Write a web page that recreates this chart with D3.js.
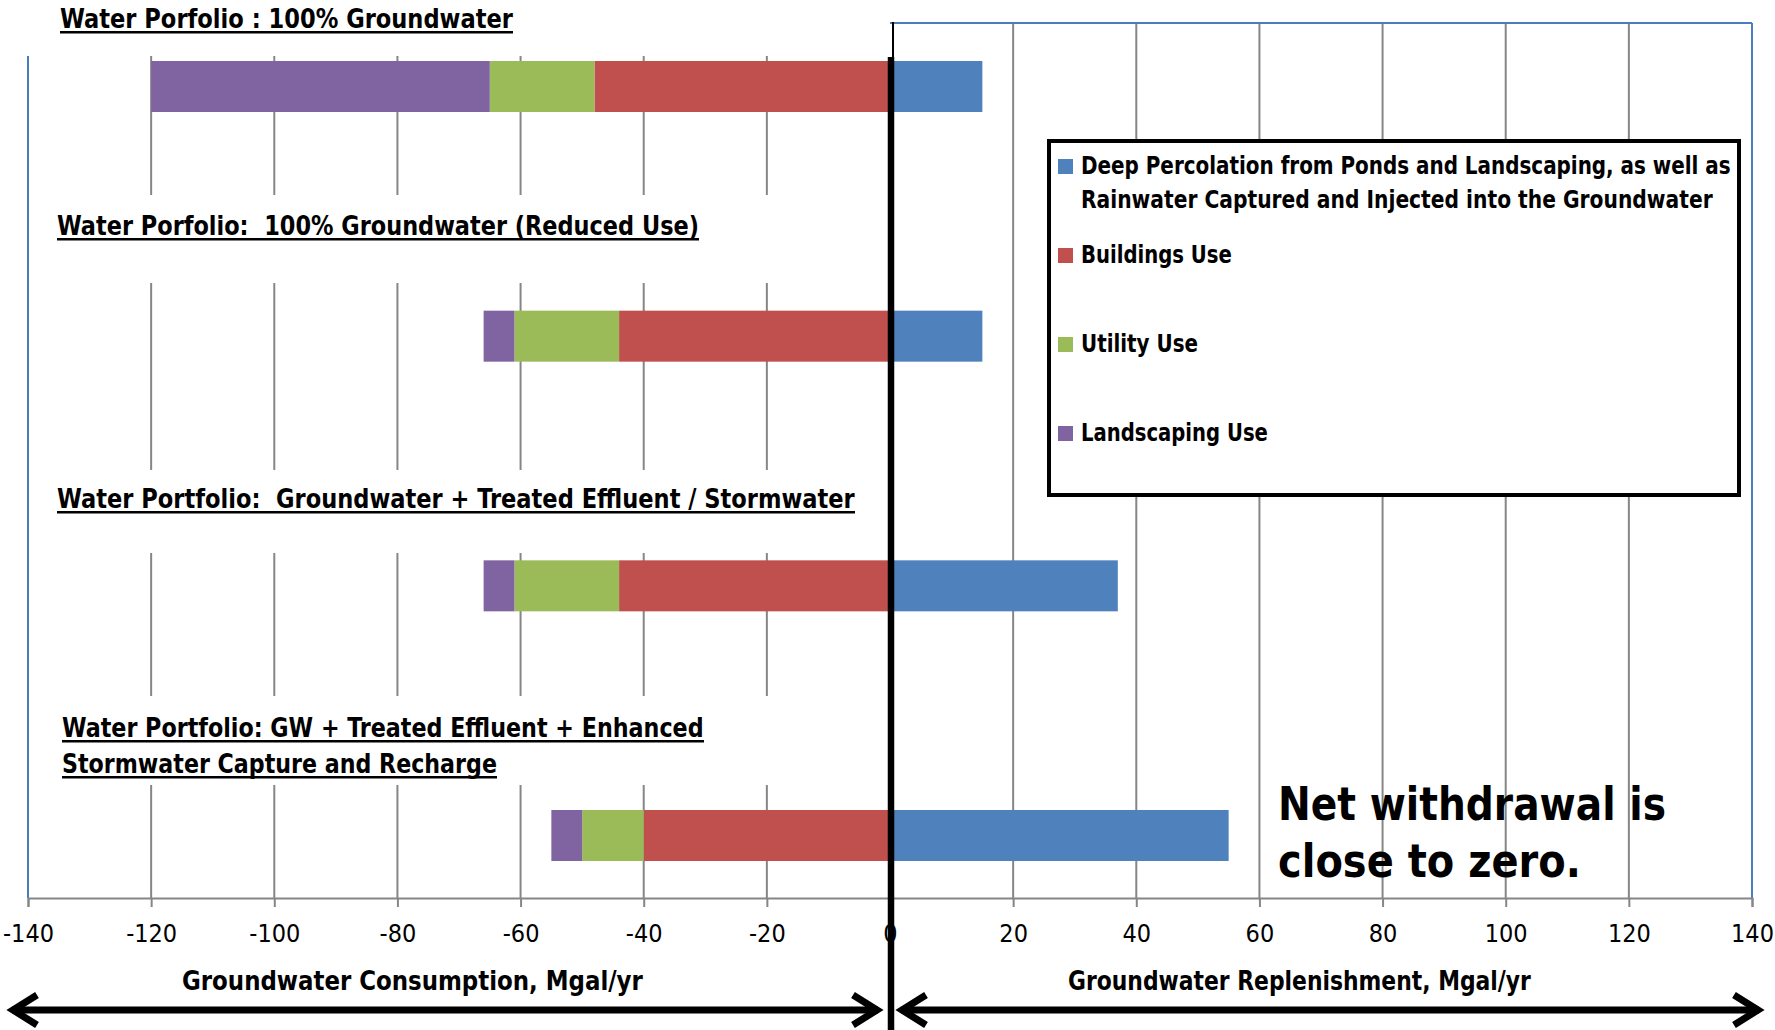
<!DOCTYPE html>
<html>
<head>
<meta charset="utf-8">
<script src="https://cdn.jsdelivr.net/npm/d3@7"></script>
<style>
  html, body { margin: 0; padding: 0; background: #ffffff; }
  svg { display: block; }
  text { white-space: pre; }
</style>
</head>
<body>
<svg id="chart" width="1775" height="1030"></svg>
<script>
// Water portfolio scenarios (one horizontal stacked bar each)
const categories = [
  "100% Groundwater",
  "100% Groundwater (Reduced Use)",
  "Groundwater + Treated Effluent / Stormwater",
  "GW + Treated Effluent + Enhanced Stormwater Capture and Recharge"
];

// Replenishment (positive side), Mgal/yr
const deepPercolation = [15, 15, 37, 55];
// Consumption components (drawn on the negative side), Mgal/yr
const buildingsUse   = [48, 44, 44, 40];
const utilityUse     = [17, 17, 17, 10];
const landscapingUse = [55, 5, 5, 5];

const seriesKeys   = ["deep", "buildings", "utility", "landscaping"];
const seriesColors = ["#4F81BD", "#C0504D", "#9BBB59", "#8064A2"];
const legendLabels = [
  ["Deep Percolation from Ponds and Landscaping, as well as",
   "Rainwater Captured and Injected into the Groundwater"],
  ["Buildings Use"],
  ["Utility Use"],
  ["Landscaping Use"]
];

const tickValues = [-140, -120, -100, -80, -60, -40, -20, 0, 20, 40, 60, 80, 100, 120, 140];
const tickLabels = ["-140", "-120", "-100", "-80", "-60", "-40", "-20", "0",
                    "20", "40", "60", "80", "100", "120", "140"];

// Scenario headings drawn above each bar
const headings = [
  ["Water Porfolio : 100% Groundwater"],
  ["Water Porfolio:  100% Groundwater (Reduced Use)"],
  ["Water Portfolio:  Groundwater + Treated Effluent / Stormwater"],
  ["Water Portfolio: GW + Treated Effluent + Enhanced",
   "Stormwater Capture and Recharge"]
];

const FONT = "'Liberation Sans Narrow', 'DejaVu Sans Condensed', 'Liberation Sans', sans-serif";
const GRID = "#868686";
const BORDER = "#4A7EBB";

const svg = d3.select("#chart");

// Place a text so that it spans exactly `w` pixels, narrowing glyphs horizontally
function fitText(parent, str, x0, y0, w, attrs) {
  const t = parent.append("text").text(str);
  Object.entries(attrs).forEach(([k, v]) => t.attr(k, v));
  const natural = t.node().getComputedTextLength();
  const sx = natural > 0 ? w / natural : 1;
  t.attr("transform", `translate(${x0},${y0}) scale(${sx},1)`);
  return t;
}

// Scales
const plotLeft = 28, plotRight = 1752, plotTop = 23, plotBottom = 898;
const x = d3.scaleLinear().domain([-140, 140]).range([plotLeft, plotRight]);
const y = d3.scalePoint().domain(categories).range([86.5, 835.5]);
const barH = 51;

// Stacked data: consumption negative, replenishment positive
const rows = categories.map((c, i) => ({
  category: c,
  deep: deepPercolation[i],
  buildings: -buildingsUse[i],
  utility: -utilityUse[i],
  landscaping: -landscapingUse[i]
}));
const stacked = d3.stack().keys(seriesKeys).offset(d3.stackOffsetDiverging)(rows);

// Vertical gridlines
svg.append("g").selectAll("line")
  .data(tickValues.filter(v => v > -140 && v < 140 && v !== 0))
  .join("line")
  .attr("x1", d => x(d)).attr("x2", d => x(d))
  .attr("y1", plotTop).attr("y2", plotBottom)
  .attr("stroke", GRID).attr("stroke-width", 2);

// Plot borders (left, right and top of right panel)
const borders = svg.append("g").attr("stroke", BORDER).attr("stroke-width", 2).attr("fill", "none");
borders.append("line").attr("x1", x(-140)).attr("x2", x(-140)).attr("y1", plotTop).attr("y2", plotBottom);
borders.append("line").attr("x1", x(140)).attr("x2", x(140)).attr("y1", plotTop).attr("y2", plotBottom);
borders.append("line").attr("x1", x(0)).attr("x2", x(140)).attr("y1", plotTop).attr("y2", plotTop);

// Bottom axis
const axis = svg.append("g")
  .attr("transform", `translate(0,${plotBottom})`)
  .call(d3.axisBottom(x).tickValues(tickValues).tickSize(9).tickSizeOuter(9)
        .tickFormat((d, i) => tickLabels[i]));
axis.select(".domain").attr("stroke", GRID).attr("stroke-width", 2);
axis.selectAll(".tick line").attr("stroke", GRID).attr("stroke-width", 2);
axis.selectAll(".tick text")
  .attr("y", 44).attr("dy", 0)
  .attr("font-family", FONT).attr("font-size", 25).attr("fill", "#000");

// White heading boxes that sit over the gridlines
const headingBoxes = [
  { x0: 0,  x1: 887, y0: 0,   y1: 56 },
  { x0: 36, x1: 887, y0: 195, y1: 283 },
  { x0: 36, x1: 887, y0: 470, y1: 553 },
  { x0: 36, x1: 887, y0: 696, y1: 785 }
];
svg.append("g").selectAll("rect")
  .data(headingBoxes)
  .join("rect")
  .attr("x", d => d.x0).attr("y", d => d.y0)
  .attr("width", d => d.x1 - d.x0).attr("height", d => d.y1 - d.y0)
  .attr("fill", "#ffffff");

// Bars
svg.append("g").selectAll("g")
  .data(stacked)
  .join("g")
  .attr("fill", (d, i) => seriesColors[i])
  .selectAll("rect")
  .data(d => d)
  .join("rect")
  .attr("x", d => x(Math.min(d[0], d[1])))
  .attr("width", d => Math.abs(x(d[1]) - x(d[0])))
  .attr("y", d => y(d.data.category) - barH / 2)
  .attr("height", barH);

// Headings (bold, underlined)
const headingLayout = [
  [{ x: 60, y: 28, w: 453 }],
  [{ x: 57, y: 235, w: 642 }],
  [{ x: 57, y: 508, w: 798 }],
  [{ x: 62, y: 737, w: 642 }, { x: 62, y: 773, w: 435 }]
];
const hg = svg.append("g");
headings.forEach((lines, i) => {
  lines.forEach((t, j) => {
    const L = headingLayout[i][j];
    fitText(hg, t, L.x, L.y, L.w,
      { "font-family": FONT, "font-weight": "bold", "font-size": 26 });
    hg.append("rect")
      .attr("x", L.x).attr("y", L.y + 3)
      .attr("width", L.w).attr("height", 2.5)
      .attr("fill", "#000");
  });
});

// Zero divider: thin rule at top, heavy rule below
svg.append("line")
  .attr("x1", x(0) + 3).attr("x2", x(0) + 3)
  .attr("y1", plotTop - 1).attr("y2", 60)
  .attr("stroke", "#000").attr("stroke-width", 2);
svg.append("line")
  .attr("x1", x(0) + 1).attr("x2", x(0) + 1)
  .attr("y1", 57).attr("y2", 1030)
  .attr("stroke", "#000").attr("stroke-width", 6.5);

// Legend
const lg = svg.append("g");
lg.append("rect")
  .attr("x", 1049).attr("y", 141).attr("width", 690).attr("height", 354)
  .attr("fill", "#fff").attr("stroke", "#000").attr("stroke-width", 4);
const legendRows = [
  { y: [174, 208], w: [650, 632] },
  { y: [263], w: [151] },
  { y: [352], w: [117] },
  { y: [441], w: [187] }
];
legendLabels.forEach((lines, i) => {
  const R = legendRows[i];
  lg.append("rect")
    .attr("x", 1058).attr("y", R.y[0] - 15)
    .attr("width", 15).attr("height", 15)
    .attr("fill", seriesColors[i]);
  lines.forEach((t, j) => {
    fitText(lg, t, 1081, R.y[j], R.w[j],
      { "font-family": FONT, "font-weight": "bold", "font-size": 25 });
  });
});

// Annotation
const noteAttrs = { "font-family": "'DejaVu Sans', Lato, sans-serif", "font-weight": "bold", "font-size": 47 };
fitText(svg, "Net withdrawal is", 1278, 820, 388, noteAttrs);
fitText(svg, "close to zero.", 1278, 877, 303, noteAttrs);

// Axis titles
const titleAttrs = { "font-family": FONT, "font-weight": "bold", "font-size": 27 };
fitText(svg, "Groundwater Consumption, Mgal/yr", 182, 990, 461, titleAttrs);
fitText(svg, "Groundwater Replenishment, Mgal/yr", 1068, 990, 463, titleAttrs);

// Double-headed arrows under each half
function doubleArrow(x0, x1, yy) {
  const g = svg.append("g").attr("stroke", "#000").attr("fill", "none")
    .attr("stroke-width", 7).attr("stroke-linejoin", "miter").attr("stroke-linecap", "butt");
  g.append("line").attr("x1", x0 + 3).attr("x2", x1 - 3).attr("y1", yy).attr("y2", yy);
  g.append("polyline").attr("points", `${x0 + 28},${yy - 15} ${x0 + 4},${yy} ${x0 + 28},${yy + 15}`);
  g.append("polyline").attr("points", `${x1 - 28},${yy - 15} ${x1 - 4},${yy} ${x1 - 28},${yy + 15}`);
}
doubleArrow(9, 881, 1010);
doubleArrow(898, 1762, 1010);
</script>
</body>
</html>
